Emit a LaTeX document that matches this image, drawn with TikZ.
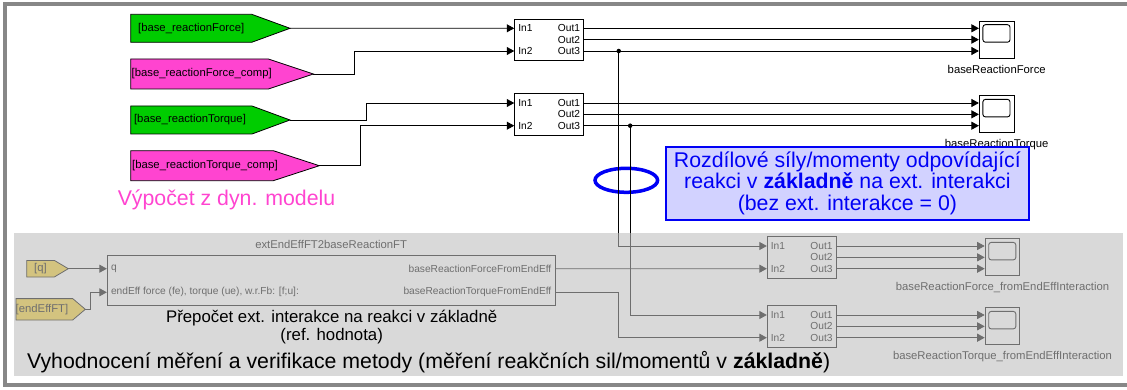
\documentclass[tikz,border=0pt]{standalone}
\usepackage{fontspec}
\setmainfont{Liberation Sans}
\usetikzlibrary{arrows.meta}
\definecolor{tagGreen}{RGB}{0,204,0}
\definecolor{tagMagenta}{RGB}{255,68,208}
\definecolor{tagGold}{RGB}{242,204,42}
\definecolor{areaGray}{RGB}{190,190,190}
\definecolor{frameGray}{RGB}{135,135,135}
\definecolor{noteBlue}{RGB}{0,0,245}
\definecolor{noteFill}{RGB}{210,210,255}

\begin{document}
\begin{tikzpicture}
[x=1pt, y=-1pt, line width=0.9pt,
blk/.style={rectangle, draw, fill=white, inner sep=0pt, minimum width=69pt, minimum height=41.3pt},
scp/.style={rectangle, draw, fill=white, inner sep=0pt, minimum width=34.7pt, minimum height=37pt},
subsys/.style={rectangle, draw, fill=white, inner sep=0pt, minimum width=447.7pt, minimum height=50.4pt},
gotoTag/.style={draw, line width=0.8pt},
sig/.style={-{Triangle[length=7.5pt,width=8pt]}},
junc/.style={circle, fill, inner sep=0pt, minimum size=4.5pt},
port/.style={inner sep=0pt, font=\fontsize{10.2}{10.2}\selectfont},
lbl/.style={inner sep=0pt, font=\fontsize{11.3}{11.3}\selectfont},
big/.style={inner sep=0pt, font=\fontsize{21.3}{21.5}\selectfont, align=center}]

\useasboundingbox (0,0) rectangle (1127,390);
\draw[frameGray, line width=4pt] (5.3,3.7) rectangle (1140,384.7);

\draw[gotoTag, fill=tagGreen] (130.7,14.3) -- (251.7,14.3) -- (290,28.3) -- (251.7,42.3) -- (130.7,42.3) -- cycle;
\node[lbl] (tagRF) at (191.2,28.3) {[base\_reactionForce]};
\coordinate (tagRF-o) at (290,28.3);
\draw[gotoTag, fill=tagMagenta] (130.7,59) -- (268.3,59) -- (313.3,74) -- (268.3,89) -- (130.7,89) -- cycle;
\node[lbl] (tagRFc) at (201.7,74) {[base\_reactionForce\_comp]};
\coordinate (tagRFc-o) at (313.3,74);
\draw[gotoTag, fill=tagGreen] (130.7,106) -- (252,106) -- (290,120) -- (252,134) -- (130.7,134) -- cycle;
\node[lbl] (tagRT) at (190,120) {[base\_reactionTorque]};
\coordinate (tagRT-o) at (290,120);
\draw[gotoTag, fill=tagMagenta] (130.7,150.7) -- (273.3,150.7) -- (319.3,165.7) -- (273.3,180.7) -- (130.7,180.7) -- cycle;
\node[lbl] (tagRTc) at (205,165.7) {[base\_reactionTorque\_comp]};
\coordinate (tagRTc-o) at (319.3,165.7);

\node[big, text=tagMagenta, anchor=base west] (dyn) at (117.3,206) {Výpočet z dyn. modelu};

\foreach \b/\x/\y in {b1/549.2/39.65, b2/549.2/114.35, b3/801.8/257.35, b4/801.8/326.35} {
  \node[blk] (\b) at (\x,\y) {};
  \coordinate (\b-i1) at ([yshift=11.35pt]\b.west);
  \coordinate (\b-i2) at ([yshift=-11.35pt]\b.west);
  \coordinate (\b-o1) at ([yshift=11.35pt]\b.east);
  \coordinate (\b-o2) at (\b.east);
  \coordinate (\b-o3) at ([yshift=-11.35pt]\b.east);
  \node[port, anchor=west] (\b-n1) at ([xshift=3.6pt]\b-i1) {In1};
  \node[port, anchor=west] (\b-n2) at ([xshift=3.6pt]\b-i2) {In2};
  \node[port, anchor=east] (\b-m1) at ([xshift=-3.7pt]\b-o1) {Out1};
  \node[port, anchor=east] (\b-m2) at ([xshift=-3.7pt]\b-o2) {Out2};
  \node[port, anchor=east] (\b-m3) at ([xshift=-3.7pt]\b-o3) {Out3};
}

\foreach \s/\x/\y/\lab in {s1/996.7/39.65/baseReactionForce, s2/996.7/114.35/baseReactionTorque,
  s3/1002.5/257.35/baseReactionForce\_fromEndEffInteraction, s4/1002.5/326.35/baseReactionTorque\_fromEndEffInteraction} {
  \node[scp] (\s) at (\x,\y) {};
  \draw[rounded corners=2.5pt] ([xshift=4pt,yshift=-4pt]\s.north west) rectangle ([xshift=-4.5pt,yshift=-21.5pt]\s.north east);
  \coordinate (\s-i1) at ([yshift=11.35pt]\s.west);
  \coordinate (\s-i2) at (\s.west);
  \coordinate (\s-i3) at ([yshift=-11.35pt]\s.west);
  \node[lbl, anchor=north] (\s-t) at ([yshift=-6pt]\s.south) {\lab};
}

\node[subsys] (sub) at (331.15,280.5) {};
\coordinate (sub-i1) at ([yshift=11.8pt]sub.west);
\coordinate (sub-i2) at ([yshift=-11.8pt]sub.west);
\coordinate (sub-o1) at ([yshift=11.8pt]sub.east);
\coordinate (sub-o2) at ([yshift=-11.8pt]sub.east);
\node[lbl, anchor=south] (sub-t) at ([yshift=5.5pt]sub.north) {extEndEffFT2baseReactionFT};
\node[port, anchor=west] (sub-n1) at ([xshift=3.7pt]sub-i1) {q};
\node[port, anchor=west] (sub-n2) at ([xshift=3.7pt]sub-i2) {endEff force (fe), torque (ue), w.r.Fb: [f;u]:};
\node[port, anchor=east] (sub-m1) at ([xshift=-3.7pt]sub-o1) {baseReactionForceFromEndEff};
\node[port, anchor=east] (sub-m2) at ([xshift=-3.7pt]sub-o2) {baseReactionTorqueFromEndEff};

\draw[gotoTag, fill=tagGold] (26.7,260.4) -- (54.3,260.4) -- (68.3,268.7) -- (54.3,277) -- (26.7,277) -- cycle;
\node[lbl] (tagQ) at (40.5,268.7) {[q]};
\coordinate (tagQ-o) at (68.3,268.7);
\draw[gotoTag, fill=tagGold] (16,298.6) -- (72.7,298.6) -- (85.3,309.3) -- (72.7,320) -- (16,320) -- cycle;
\node[lbl] (tagEF) at (42,309.3) {[endEffFT]};
\coordinate (tagEF-o) at (85.3,309.3);

\draw[noteBlue, line width=3.5pt] (626.3,180.3) ellipse [x radius=31.3pt, y radius=12pt];

\draw[sig] (tagRF-o) -- (b1-i1);
\draw[sig] (tagRFc-o) -- ++(40.7,0) |- (b1-i2);
\draw[sig] (tagRT-o) -- ++(76,0) |- (b2-i1);
\draw[sig] (tagRTc-o) -- ++(40.7,0) |- (b2-i2);
\foreach \b/\s in {b1/s1, b2/s2, b3/s3, b4/s4}
  \foreach \k in {1,2,3}
    \draw[sig] (\b-o\k) -- (\s-i\k);

\node[junc] (j1) at ([xshift=34.6pt]b1-o3) {};
\node[junc] (j2) at ([xshift=46pt]b2-o3) {};
\draw[sig] (j1.center) |- (b3-i1);
\draw[sig] (j2.center) |- (b4-i1);
\draw[sig] (tagQ-o) -- (sub-i1);
\draw[sig] (tagEF-o) -- ++(5.4,0) |- (sub-i2);
\draw[sig] (sub-o1) -- (b3-i2);
\draw[sig] (sub-o2) -- ++(63.3,0) |- (b4-i2);

\fill[areaGray, opacity=0.58] (14,232.7) rectangle (1123.3,375.7);
\node[big, font=\fontsize{16.8}{17.4}\selectfont] (areaNote) at (331.7,327) {Přepočet ext. interakce na reakci v základně\\(ref. hodnota)};
\node[big, anchor=west] (areaTitle) at (26.7,361.7) {Vyhodnocení měření a verifikace metody (měření reakčních sil/momentů v \textbf{základně})};

\node[big, draw=noteBlue, fill=noteFill, line width=2pt, text=noteBlue, minimum width=362.7pt, minimum height=73.3pt] (note) at (847.4,183.3) {Rozdílové síly/momenty odpovídající\\reakci v \textbf{základně} na ext. interakci\\(bez ext. interakce = 0)};
\end{tikzpicture}
\end{document}
